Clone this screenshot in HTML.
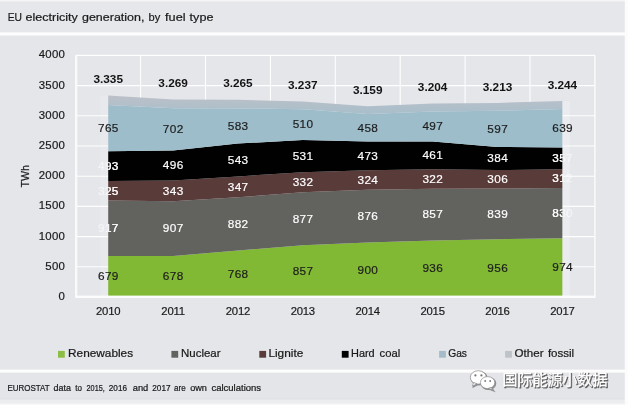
<!DOCTYPE html>
<html><head><meta charset="utf-8"><title>EU electricity generation, by fuel type</title>
<style>html,body{margin:0;padding:0;background:#e5e6ea;}body{width:628px;height:405px;overflow:hidden;font-family:"Liberation Sans",sans-serif;}svg{display:block;will-change:transform}</style>
</head><body>
<svg width="628" height="405" viewBox="0 0 628 405" font-family="Liberation Sans, sans-serif">
<defs><linearGradient id="og" gradientUnits="userSpaceOnUse" x1="0" y1="96" x2="0" y2="113"><stop offset="0" stop-color="#bcc0c8"/><stop offset="1" stop-color="#a9bfcb"/></linearGradient></defs>
<rect width="628" height="405" fill="#e5e6ea"/>
<rect x="0" y="0" width="628" height="33" fill="#e6e7ea"/>
<rect x="0" y="372" width="628" height="33" fill="#e4e5e9"/>
<rect x="0" y="0" width="628" height="1.5" fill="#f4f4f6"/>
<rect x="0" y="32.4" width="628" height="3.1" fill="#fdfdfd"/>
<rect x="0" y="369.6" width="628" height="3" fill="#fdfdfd"/>
<rect x="0" y="398.7" width="628" height="0.9" fill="#dddee2"/>
<rect x="0" y="399.6" width="628" height="5.4" fill="#ecedef"/>
<rect x="0" y="403.5" width="628" height="1.5" fill="#f8f8f9"/>
<rect x="624.8" y="0" width="3.2" height="405" fill="#fcfcfd"/>
<g stroke="#fefefe" stroke-width="1.1" fill="none">
<line x1="75.7" y1="55.40" x2="594.9" y2="55.40"/>
<line x1="75.7" y1="85.60" x2="594.9" y2="85.60"/>
<line x1="75.7" y1="115.80" x2="594.9" y2="115.80"/>
<line x1="75.7" y1="146.00" x2="594.9" y2="146.00"/>
<line x1="75.7" y1="176.20" x2="594.9" y2="176.20"/>
<line x1="75.7" y1="206.40" x2="594.9" y2="206.40"/>
<line x1="75.7" y1="236.60" x2="594.9" y2="236.60"/>
<line x1="75.7" y1="266.80" x2="594.9" y2="266.80"/>
<line x1="75.7" y1="297.00" x2="594.9" y2="297.00"/>
<line x1="75.70" y1="55.4" x2="75.70" y2="297.0"/>
<line x1="140.60" y1="55.4" x2="140.60" y2="297.0"/>
<line x1="205.50" y1="55.4" x2="205.50" y2="297.0"/>
<line x1="270.40" y1="55.4" x2="270.40" y2="297.0"/>
<line x1="335.30" y1="55.4" x2="335.30" y2="297.0"/>
<line x1="400.20" y1="55.4" x2="400.20" y2="297.0"/>
<line x1="465.10" y1="55.4" x2="465.10" y2="297.0"/>
<line x1="530.00" y1="55.4" x2="530.00" y2="297.0"/>
<line x1="594.90" y1="55.4" x2="594.90" y2="297.0" stroke-width="1.3"/>
</g>
<polygon points="108.2,256.0 173.1,256.0 237.9,250.6 302.8,245.2 367.7,242.6 432.6,240.5 497.5,239.3 562.4,238.2 562.4,297.0 497.5,297.0 432.6,297.0 367.7,297.0 302.8,297.0 237.9,297.0 173.1,297.0 108.2,297.0" fill="#82b934"/>
<polygon points="108.2,200.6 173.1,201.3 237.9,197.3 302.8,192.3 367.7,189.7 432.6,188.7 497.5,188.6 562.4,188.0 562.4,238.2 497.5,239.3 432.6,240.5 367.7,242.6 302.8,245.2 237.9,250.6 173.1,256.0 108.2,256.0" fill="#62625f"/>
<polygon points="108.2,181.0 173.1,180.5 237.9,176.4 302.8,172.2 367.7,170.2 432.6,169.3 497.5,170.1 562.4,169.2 562.4,188.0 497.5,188.6 432.6,188.7 367.7,189.7 302.8,192.3 237.9,197.3 173.1,201.3 108.2,200.6" fill="#593b39"/>
<polygon points="108.2,151.2 173.1,150.6 237.9,143.6 302.8,140.1 367.7,141.6 432.6,141.4 497.5,146.9 562.4,147.6 562.4,169.2 497.5,170.1 432.6,169.3 367.7,170.2 302.8,172.2 237.9,176.4 173.1,180.5 108.2,181.0" fill="#010101"/>
<polygon points="108.2,105.0 173.1,108.2 237.9,108.4 302.8,109.3 367.7,113.9 432.6,111.4 497.5,110.8 562.4,109.0 562.4,147.6 497.5,146.9 432.6,141.4 367.7,141.6 302.8,140.1 237.9,143.6 173.1,150.6 108.2,151.2" fill="#9dbdca"/>
<polygon points="108.2,95.6 173.1,99.6 237.9,99.8 302.8,101.5 367.7,106.2 432.6,103.5 497.5,102.9 562.4,101.1 562.4,109.0 497.5,110.8 432.6,111.4 367.7,113.9 302.8,109.3 237.9,108.4 173.1,108.2 108.2,105.0" fill="url(#og)"/>
<rect x="75.1" y="295.6" width="520.4" height="2.3" fill="#fcfcfd"/>
<rect x="75.1" y="55.4" width="2.2" height="241.6" fill="#fafafb"/>
<rect x="562.4" y="101.1" width="7.5" height="195.9" fill="#ffffff" opacity="0.25"/>
<rect x="100.2" y="95.6" width="8" height="201.4" fill="#ffffff" opacity="0.14"/>
<clipPath id="ac"><rect x="108.2" y="55.4" width="454.3" height="241.6"/></clipPath>
<g font-size="11.8" letter-spacing="0.35" text-anchor="middle">
<text x="108.4" y="280.2" fill="#1c1c1c" stroke="#1c1c1c" stroke-width="0.18">679</text>
<text x="173.2" y="280.2" fill="#1c1c1c" stroke="#1c1c1c" stroke-width="0.18">678</text>
<text x="238.1" y="277.5" fill="#1c1c1c" stroke="#1c1c1c" stroke-width="0.18">768</text>
<text x="303.0" y="274.8" fill="#1c1c1c" stroke="#1c1c1c" stroke-width="0.18">857</text>
<text x="367.9" y="273.5" fill="#1c1c1c" stroke="#1c1c1c" stroke-width="0.18">900</text>
<text x="432.8" y="272.4" fill="#1c1c1c" stroke="#1c1c1c" stroke-width="0.18">936</text>
<text x="497.7" y="271.8" fill="#1c1c1c" stroke="#1c1c1c" stroke-width="0.18">956</text>
<text x="562.6" y="271.3" fill="#1c1c1c" stroke="#1c1c1c" stroke-width="0.18">974</text>
<text x="108.4" y="232.0" fill="#ffffff" stroke="#ffffff" stroke-width="0.18" opacity="0.55">917</text>
<text x="108.4" y="232.0" fill="#ffffff" stroke="#ffffff" stroke-width="0.18" clip-path="url(#ac)">917</text>
<text x="173.2" y="232.4" fill="#ffffff" stroke="#ffffff" stroke-width="0.18">907</text>
<text x="238.1" y="227.7" fill="#ffffff" stroke="#ffffff" stroke-width="0.18">882</text>
<text x="303.0" y="222.5" fill="#ffffff" stroke="#ffffff" stroke-width="0.18">877</text>
<text x="367.9" y="219.9" fill="#ffffff" stroke="#ffffff" stroke-width="0.18">876</text>
<text x="432.8" y="218.3" fill="#ffffff" stroke="#ffffff" stroke-width="0.18">857</text>
<text x="497.7" y="217.6" fill="#ffffff" stroke="#ffffff" stroke-width="0.18">839</text>
<text x="562.6" y="216.8" fill="#ffffff" stroke="#ffffff" stroke-width="0.18" opacity="0.55">830</text>
<text x="562.6" y="216.8" fill="#ffffff" stroke="#ffffff" stroke-width="0.18" clip-path="url(#ac)">830</text>
<text x="108.4" y="194.5" fill="#ffffff" stroke="#ffffff" stroke-width="0.18" opacity="0.55">325</text>
<text x="108.4" y="194.5" fill="#ffffff" stroke="#ffffff" stroke-width="0.18" clip-path="url(#ac)">325</text>
<text x="173.2" y="194.6" fill="#ffffff" stroke="#ffffff" stroke-width="0.18">343</text>
<text x="238.1" y="190.6" fill="#ffffff" stroke="#ffffff" stroke-width="0.18">347</text>
<text x="303.0" y="185.9" fill="#ffffff" stroke="#ffffff" stroke-width="0.18">332</text>
<text x="367.9" y="183.6" fill="#ffffff" stroke="#ffffff" stroke-width="0.18">324</text>
<text x="432.8" y="182.7" fill="#ffffff" stroke="#ffffff" stroke-width="0.18">322</text>
<text x="497.7" y="183.0" fill="#ffffff" stroke="#ffffff" stroke-width="0.18">306</text>
<text x="562.6" y="182.3" fill="#ffffff" stroke="#ffffff" stroke-width="0.18" opacity="0.55">312</text>
<text x="562.6" y="182.3" fill="#ffffff" stroke="#ffffff" stroke-width="0.18" clip-path="url(#ac)">312</text>
<text x="108.4" y="169.8" fill="#ffffff" stroke="#ffffff" stroke-width="0.18" opacity="0.55">493</text>
<text x="108.4" y="169.8" fill="#ffffff" stroke="#ffffff" stroke-width="0.18" clip-path="url(#ac)">493</text>
<text x="173.2" y="169.3" fill="#ffffff" stroke="#ffffff" stroke-width="0.18">496</text>
<text x="238.1" y="163.7" fill="#ffffff" stroke="#ffffff" stroke-width="0.18">543</text>
<text x="303.0" y="159.9" fill="#ffffff" stroke="#ffffff" stroke-width="0.18">531</text>
<text x="367.9" y="159.6" fill="#ffffff" stroke="#ffffff" stroke-width="0.18">473</text>
<text x="432.8" y="159.0" fill="#ffffff" stroke="#ffffff" stroke-width="0.18">461</text>
<text x="497.7" y="162.2" fill="#ffffff" stroke="#ffffff" stroke-width="0.18">384</text>
<text x="562.6" y="162.1" fill="#ffffff" stroke="#ffffff" stroke-width="0.18" opacity="0.55">357</text>
<text x="562.6" y="162.1" fill="#ffffff" stroke="#ffffff" stroke-width="0.18" clip-path="url(#ac)">357</text>
<text x="108.4" y="131.8" fill="#1c1c1c" stroke="#1c1c1c" stroke-width="0.18">765</text>
<text x="173.2" y="133.1" fill="#1c1c1c" stroke="#1c1c1c" stroke-width="0.18">702</text>
<text x="238.1" y="129.7" fill="#1c1c1c" stroke="#1c1c1c" stroke-width="0.18">583</text>
<text x="303.0" y="128.4" fill="#1c1c1c" stroke="#1c1c1c" stroke-width="0.18">510</text>
<text x="367.9" y="131.5" fill="#1c1c1c" stroke="#1c1c1c" stroke-width="0.18">458</text>
<text x="432.8" y="130.1" fill="#1c1c1c" stroke="#1c1c1c" stroke-width="0.18">497</text>
<text x="497.7" y="132.6" fill="#1c1c1c" stroke="#1c1c1c" stroke-width="0.18">597</text>
<text x="562.6" y="132.0" fill="#1c1c1c" stroke="#1c1c1c" stroke-width="0.18">639</text>
</g>
<g font-size="11.8" font-weight="bold" text-anchor="middle" fill="#141414">
<text x="108.2" y="83.2">3.335</text>
<text x="173.1" y="87.2">3.269</text>
<text x="237.9" y="87.4">3.265</text>
<text x="302.8" y="89.1">3.237</text>
<text x="367.7" y="93.8">3.159</text>
<text x="432.6" y="91.1">3.204</text>
<text x="497.5" y="90.5">3.213</text>
<text x="562.4" y="88.7">3.244</text>
</g>
<g font-size="11.4" letter-spacing="0.3" text-anchor="end" fill="#1a1a1a" stroke="#1a1a1a" stroke-width="0.2">
<text x="65.2" y="58.3">4000</text>
<text x="65.2" y="88.5">3500</text>
<text x="65.2" y="118.7">3000</text>
<text x="65.2" y="148.9">2500</text>
<text x="65.2" y="179.1">2000</text>
<text x="65.2" y="209.3">1500</text>
<text x="65.2" y="239.5">1000</text>
<text x="65.2" y="269.7">500</text>
<text x="65.2" y="299.9">0</text>
</g>
<text font-size="10.6" fill="#1a1a1a" stroke="#1a1a1a" stroke-width="0.2" text-anchor="middle" transform="translate(28.9,176.3) rotate(-90)">TWh</text>
<g font-size="11.3" letter-spacing="-0.2" text-anchor="middle" fill="#1a1a1a" stroke="#1a1a1a" stroke-width="0.2">
<text x="108.2" y="315.1">2010</text>
<text x="173.1" y="315.1">2011</text>
<text x="237.9" y="315.1">2012</text>
<text x="302.8" y="315.1">2013</text>
<text x="367.7" y="315.1">2014</text>
<text x="432.6" y="315.1">2015</text>
<text x="497.5" y="315.1">2016</text>
<text x="562.4" y="315.1">2017</text>
</g>
<text x="7.7" y="20.7" font-size="11.5" fill="#1a1a1a" stroke="#1a1a1a" stroke-width="0.22" textLength="14.3" lengthAdjust="spacingAndGlyphs">EU</text>
<text x="25.6" y="20.7" font-size="11.5" fill="#1a1a1a" stroke="#1a1a1a" stroke-width="0.22" textLength="52.2" lengthAdjust="spacingAndGlyphs">electricity</text>
<text x="82.0" y="20.7" font-size="11.5" fill="#1a1a1a" stroke="#1a1a1a" stroke-width="0.22" textLength="62.4" lengthAdjust="spacingAndGlyphs">generation,</text>
<text x="148.6" y="20.7" font-size="11.5" fill="#1a1a1a" stroke="#1a1a1a" stroke-width="0.22" textLength="11.7" lengthAdjust="spacingAndGlyphs">by</text>
<text x="165.1" y="20.7" font-size="11.5" fill="#1a1a1a" stroke="#1a1a1a" stroke-width="0.22" textLength="20.5" lengthAdjust="spacingAndGlyphs">fuel</text>
<text x="189.6" y="20.7" font-size="11.5" fill="#1a1a1a" stroke="#1a1a1a" stroke-width="0.22" textLength="23.8" lengthAdjust="spacingAndGlyphs">type</text>
<rect x="58" y="350.9" width="6.8" height="6.8" fill="#8cbd45"/>
<text x="68.1" y="357.1" font-size="11.5" fill="#1a1a1a" stroke="#1a1a1a" stroke-width="0.22" textLength="65.0" lengthAdjust="spacingAndGlyphs">Renewables</text>
<rect x="171.4" y="350.9" width="6.8" height="6.8" fill="#62625f"/>
<text x="181.0" y="357.1" font-size="11.5" fill="#1a1a1a" stroke="#1a1a1a" stroke-width="0.22" textLength="39.6" lengthAdjust="spacingAndGlyphs">Nuclear</text>
<rect x="259.3" y="350.9" width="6.8" height="6.8" fill="#593b39"/>
<text x="268.4" y="357.1" font-size="11.5" fill="#1a1a1a" stroke="#1a1a1a" stroke-width="0.22" textLength="34.9" lengthAdjust="spacingAndGlyphs">Lignite</text>
<rect x="341.8" y="350.9" width="6.8" height="6.8" fill="#010101"/>
<text x="351.0" y="357.1" font-size="11.5" fill="#1a1a1a" stroke="#1a1a1a" stroke-width="0.22" textLength="23.7" lengthAdjust="spacingAndGlyphs">Hard</text>
<text x="379.6" y="357.1" font-size="11.5" fill="#1a1a1a" stroke="#1a1a1a" stroke-width="0.22" textLength="20.7" lengthAdjust="spacingAndGlyphs">coal</text>
<rect x="439.1" y="350.9" width="6.8" height="6.8" fill="#a3bcc8"/>
<text x="448.2" y="357.1" font-size="11.5" fill="#1a1a1a" stroke="#1a1a1a" stroke-width="0.22" textLength="18.8" lengthAdjust="spacingAndGlyphs">Gas</text>
<rect x="505.1" y="350.9" width="6.8" height="6.8" fill="#bec2c9"/>
<text x="514.5" y="357.1" font-size="11.5" fill="#1a1a1a" stroke="#1a1a1a" stroke-width="0.22" textLength="29.0" lengthAdjust="spacingAndGlyphs">Other</text>
<text x="547.9" y="357.1" font-size="11.5" fill="#1a1a1a" stroke="#1a1a1a" stroke-width="0.22" textLength="26.3" lengthAdjust="spacingAndGlyphs">fossil</text>
<text x="7.4" y="390.5" font-size="9.1" fill="#1a1a1a" stroke="#1a1a1a" stroke-width="0.22" textLength="42.3" lengthAdjust="spacingAndGlyphs">EUROSTAT</text>
<text x="53.5" y="390.5" font-size="9.1" fill="#1a1a1a" stroke="#1a1a1a" stroke-width="0.22" textLength="17.4" lengthAdjust="spacingAndGlyphs">data</text>
<text x="75.3" y="390.5" font-size="9.1" fill="#1a1a1a" stroke="#1a1a1a" stroke-width="0.22" textLength="6.7" lengthAdjust="spacingAndGlyphs">to</text>
<text x="86.5" y="390.5" font-size="9.1" fill="#1a1a1a" stroke="#1a1a1a" stroke-width="0.22" textLength="18.3" lengthAdjust="spacingAndGlyphs">2015,</text>
<text x="108.8" y="390.5" font-size="9.1" fill="#1a1a1a" stroke="#1a1a1a" stroke-width="0.22" textLength="18.2" lengthAdjust="spacingAndGlyphs">2016</text>
<text x="132.7" y="390.5" font-size="9.1" fill="#1a1a1a" stroke="#1a1a1a" stroke-width="0.22" textLength="15.6" lengthAdjust="spacingAndGlyphs">and</text>
<text x="152.3" y="390.5" font-size="9.1" fill="#1a1a1a" stroke="#1a1a1a" stroke-width="0.22" textLength="18.3" lengthAdjust="spacingAndGlyphs">2017</text>
<text x="174.1" y="390.5" font-size="9.1" fill="#1a1a1a" stroke="#1a1a1a" stroke-width="0.22" textLength="11.6" lengthAdjust="spacingAndGlyphs">are</text>
<text x="190.2" y="390.5" font-size="9.1" fill="#1a1a1a" stroke="#1a1a1a" stroke-width="0.22" textLength="16.7" lengthAdjust="spacingAndGlyphs">own</text>
<text x="211.4" y="390.5" font-size="9.1" fill="#1a1a1a" stroke="#1a1a1a" stroke-width="0.22" textLength="49.7" lengthAdjust="spacingAndGlyphs">calculations</text>
<text x="503.4" y="386.0" font-size="15" font-family="&quot;Liberation Sans&quot;, &quot;Noto Sans CJK SC&quot;, sans-serif" fill="#3a3a3a" stroke="#3a3a3a" stroke-width="0.9" opacity="0.75" textLength="105" lengthAdjust="spacing">国际能源小数据</text>
<text x="502.6" y="385.2" font-size="15" font-family="&quot;Liberation Sans&quot;, &quot;Noto Sans CJK SC&quot;, sans-serif" fill="#ffffff" stroke="#ffffff" stroke-width="0.27" textLength="105" lengthAdjust="spacing">国际能源小数据</text>
<g transform="translate(469.9,370.1)" fill="#4a4a4a" stroke="#4a4a4a" stroke-width="1.2" opacity="0.55"><ellipse cx="9.3" cy="8.2" rx="8" ry="6.7"/><path d="M4.6 13.3 L3.4 17 L8 14.6 Z"/><ellipse cx="18.6" cy="13.4" rx="7.2" ry="6"/><path d="M22 18.2 L24 20.8 L19.4 19.2 Z"/></g>
<g transform="translate(469,369.2)" fill="#ffffff" stroke="#8a8a8a" stroke-width="0.7" stroke-linejoin="round"><ellipse cx="9.3" cy="8.2" rx="8" ry="6.7"/><path d="M4.6 13.3 L3.4 17 L8 14.6 Z"/><ellipse cx="18.6" cy="13.4" rx="7.2" ry="6"/><path d="M22 18.2 L24 20.8 L19.4 19.2 Z"/></g>
<g fill="#777"><circle cx="475.4" cy="375.4" r="1.1"/><circle cx="481.4" cy="375.4" r="1.1"/><circle cx="485.2" cy="381" r="0.9"/><circle cx="490.2" cy="381" r="0.9"/></g>
</svg>
</body></html>
